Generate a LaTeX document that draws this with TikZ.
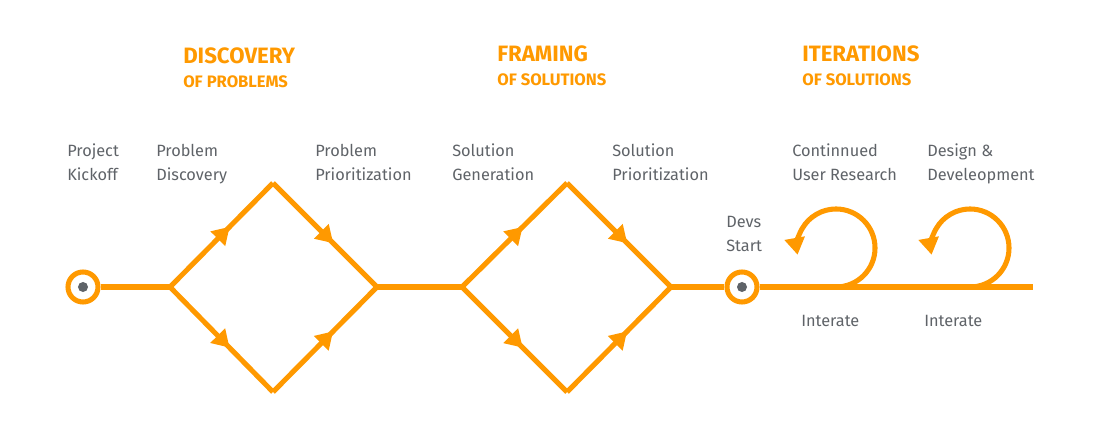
\documentclass[tikz,border=0pt]{standalone}
\usepackage{fontspec}
\setsansfont{Fira Sans}
\usetikzlibrary{arrows.meta,decorations.markings}
\definecolor{flow}{HTML}{FF9900}
\definecolor{labelgray}{HTML}{5F6368}
\tikzset{
  flowline/.style={draw=flow, line width=3.6pt},
  midarrow/.style={postaction={decorate}, decoration={markings,
      mark=at position 0.58 with {\arrow{Triangle[length=12pt,width=14pt]}}}},
  milestone/.style={circle, draw=flow, line width=3.6pt, fill=white,
      minimum size=0.75cm, inner sep=0pt},
  steplabel/.style={font=\sffamily\fontsize{11.6}{17}\selectfont, text=labelgray,
      align=left, anchor=base west, inner sep=0pt},
  phasetitle/.style={font=\sffamily\bfseries\fontsize{15.8}{18}\selectfont,
      text=flow, anchor=base west, inner sep=0pt},
  phasesub/.style={font=\sffamily\bfseries\fontsize{11.8}{13}\selectfont,
      text=flow, anchor=base west, inner sep=0pt}
}
\begin{document}
\begin{tikzpicture}[x=0.025cm, y=-0.025cm]
    \useasboundingbox (0,0) rectangle (1100,440);
    % phase titles
    \node[phasetitle] (discT) at (183,64) {DISCOVERY};
    \node[phasesub]   (discS) at (183,88) {OF PROBLEMS};
    \node[phasetitle] (framT) at (497,62) {FRAMING};
    \node[phasesub]   (framS) at (497,86) {OF SOLUTIONS};
    \node[phasetitle] (iterT) at (802,62) {ITERATIONS};
    \node[phasesub]   (iterS) at (802,86) {OF SOLUTIONS};
    % step labels (base = last line)
    \node[steplabel] (kickL) at (67,180)  {Project\\Kickoff};
    \node[steplabel] (discL) at (156,180) {Problem\\Discovery};
    \node[steplabel] (prioL) at (315,180) {Problem\\Prioritization};
    \node[steplabel] (geneL) at (452,180) {Solution\\Generation};
    \node[steplabel] (solpL) at (612,180) {Solution\\Prioritization};
    \node[steplabel] (reseL) at (792,180) {Continnued\\User Research};
    \node[steplabel] (deveL) at (927,180) {Design \&\\Develeopment};
    \node[steplabel] (devsL) at (726,251) {Devs\\Start};
    \node[steplabel] (iter1L) at (801,326) {Interate};
    \node[steplabel] (iter2L) at (924,326) {Interate};
    % path points
    \coordinate (d1w) at (170,287);
    \coordinate (d1n) at (273,183);
    \coordinate (d1e) at (377,287);
    \coordinate (d1s) at (273,392);
    \coordinate (d2w) at (462,287);
    \coordinate (d2n) at (567,183);
    \coordinate (d2e) at (671,287);
    \coordinate (d2s) at (567,392);
    \coordinate (loop1) at (836,287);
    \coordinate (loop2) at (970,287);
    \coordinate (lineend) at (1033,287);
    \node[milestone] (kickoff) at (83,287) {};
    \node[milestone] (devs) at (742,287) {};
    % lines
    \draw[flowline] (kickoff) -- (d1w);
    \draw[flowline, midarrow] (d1w) -- (d1n);
    \draw[flowline, midarrow] (d1n) -- (d1e);
    \draw[flowline, midarrow] (d1w) -- (d1s);
    \draw[flowline, midarrow] (d1s) -- (d1e);
    \draw[flowline] (d1e) -- (d2w);
    \draw[flowline, midarrow] (d2w) -- (d2n);
    \draw[flowline, midarrow] (d2n) -- (d2e);
    \draw[flowline, midarrow] (d2w) -- (d2s);
    \draw[flowline, midarrow] (d2s) -- (d2e);
    \draw[flowline] (d2e) -- (devs);
    \draw[flowline] (devs) -- (lineend);
    % loops
    \draw[flowline, -{Triangle[length=12pt,width=14pt]}] (loop1)
      arc[start angle=-90, end angle=190, radius=0.975cm];
    \draw[flowline, -{Triangle[length=12pt,width=14pt]}] (loop2)
      arc[start angle=-90, end angle=190, radius=0.975cm];
    % milestone dots
    \fill[labelgray] (kickoff.center) circle[radius=0.125cm];
    \fill[labelgray] (devs.center) circle[radius=0.125cm];
  \end{tikzpicture}
\end{document}
